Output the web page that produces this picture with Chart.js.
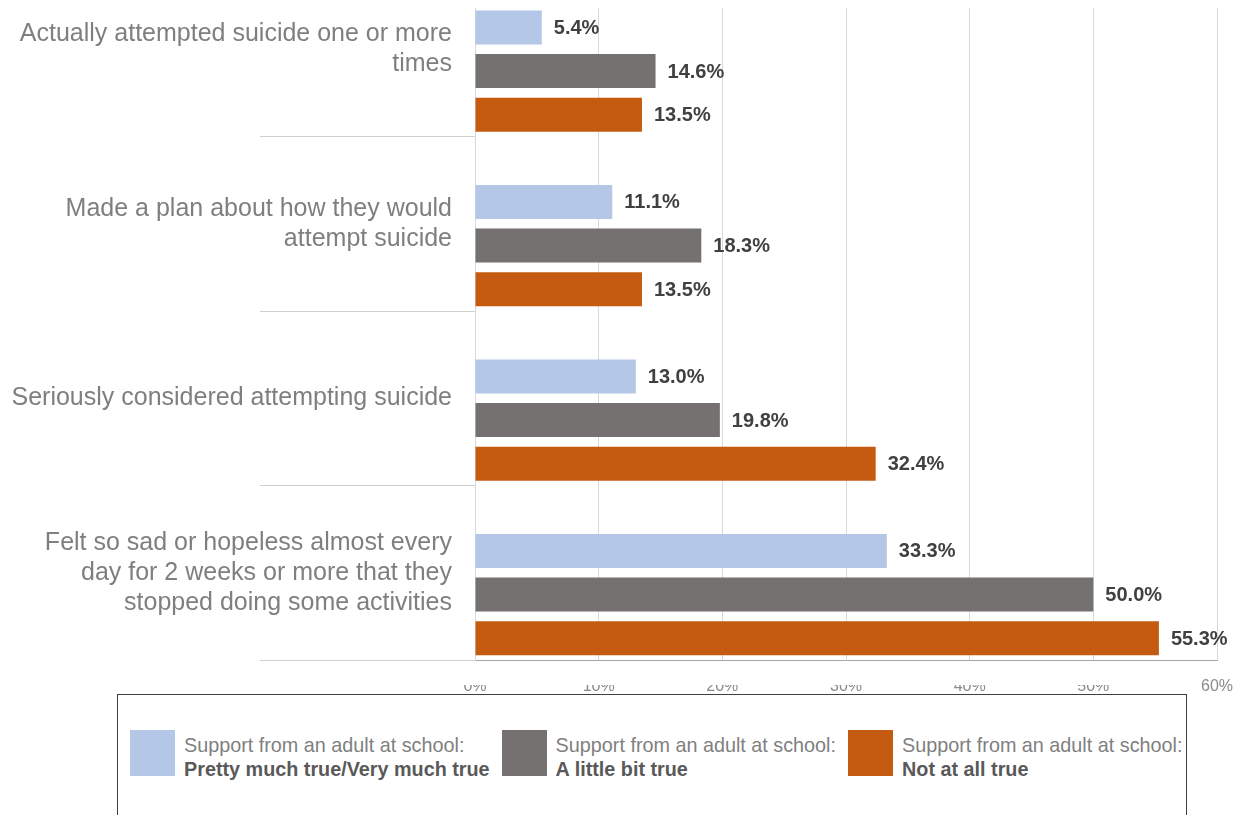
<!DOCTYPE html>
<html>
<head>
<meta charset="utf-8">
<script src="https://cdn.jsdelivr.net/npm/chart.js@4.4.1/dist/chart.umd.min.js"></script>
<style>
    body { margin: 0; background: #fff; width: 1237px; height: 815px; overflow: hidden; position: relative; font-family: "Liberation Sans", Arial, sans-serif; }
    #clip { position: absolute; left: 0; top: 8px; width: 1237px; height: 700px; overflow: hidden; }
    #wrap { position: absolute; left: 0; top: -46px; width: 1237px; height: 738px; }
    #mask { position: absolute; left: 440px; top: 655px; width: 730px; height: 22px; background: #fff; }
    #legend { position: absolute; left: 117px; top: 694px; width: 1070px; height: 140px; border: 1px solid #404040; background: #fff; box-sizing: border-box; }
    #legend .items { display: flex; gap: 12px; margin: 35px 0 0 12px; align-items: flex-start; }
    #legend .item { display: flex; align-items: flex-start; }
    #legend .sw { width: 45px; height: 46px; flex: none; }
    #legend .txt { margin-left: 9px; font-size: 19.8px; line-height: 24px; color: #7f7f7f; white-space: nowrap; margin-top: 3px; }
    #legend .txt b { color: #595959; }
</style>
</head>
<body>
<div id="clip">
    <div id="wrap"><canvas id="chart"></canvas></div>
    <div id="mask"></div>
</div>
<div id="legend"><div class="items" id="legendItems"></div></div>

<script>
// categories (top to bottom), multi-line labels
var categories = [
    ['Actually attempted suicide one or more', 'times'],
    ['Made a plan about how they would', 'attempt suicide'],
    ['Seriously considered attempting suicide'],
    ['Felt so sad or hopeless almost every', 'day for 2 weeks or more that they', 'stopped doing some activities']
];

// series values (%)
var prettyMuchTrue = [5.4, 11.1, 13.0, 33.3];
var littleBitTrue = [14.6, 18.3, 19.8, 50.0];
var notAtAllTrue = [13.5, 13.5, 32.4, 55.3];

var seriesPrefix = 'Support from an adult at school:';
var seriesNames = ['Pretty much true/Very much true', 'A little bit true', 'Not at all true'];
var seriesColors = ['#b4c7e7', '#767171', '#c55a11'];

var xTicks = [0, 10, 20, 30, 40, 50, 60];

// empty slot at the top of each group (the bars sit low in their band in the original)
var spacer = [null, null, null, null];

var dataLabels = {
    id: 'dataLabels',
    afterDatasetsDraw: function(chart) {
        var ctx = chart.ctx;
        ctx.save();
        ctx.font = 'bold 20px "Liberation Sans", Arial, sans-serif';
        ctx.fillStyle = '#404040';
        ctx.textAlign = 'left';
        ctx.textBaseline = 'middle';
        chart.data.datasets.forEach(function(ds, di) {
            if (ds.spacer) return;
            chart.getDatasetMeta(di).data.forEach(function(bar, i) {
                var v = ds.data[i];
                if (v == null) return;
                ctx.fillText(v.toFixed(1) + '%', bar.x + 12, bar.y + 1);
            });
        });
        ctx.restore();
    }
};

var datasets = [{ label: '', data: spacer, spacer: true, backgroundColor: 'rgba(0,0,0,0)' }];
[prettyMuchTrue, littleBitTrue, notAtAllTrue].forEach(function(vals, i) {
    datasets.push({
        label: seriesPrefix + ' ' + seriesNames[i],
        data: vals,
        backgroundColor: seriesColors[i],
        borderWidth: 0
    });
});

new Chart(document.getElementById('chart'), {
    type: 'bar',
    data: { labels: categories, datasets: datasets },
    options: {
        indexAxis: 'y',
        responsive: true,
        maintainAspectRatio: false,
        animation: false,
        devicePixelRatio: 1,
        categoryPercentage: 1.0,
        barPercentage: 0.78,
        layout: { padding: { left: 0, right: 20, top: 0, bottom: 0 } },
        plugins: {
            legend: { display: false },
            tooltip: { enabled: false }
        },
        scales: {
            x: {
                min: 0,
                max: 60,
                afterBuildTicks: function(scale) {
                    scale.ticks = xTicks.map(function(v) { return { value: v }; });
                },
                afterFit: function(scale) {
                    scale.height = 40;
                    scale.paddingRight = 0;
                },
                grid: { color: '#d9d9d9', drawTicks: false },
                border: { display: true, color: '#a6a6a6' },
                ticks: {
                    padding: 17,
                    color: '#8a8a8a',
                    font: { family: '"Liberation Sans", Arial, sans-serif', size: 16 },
                    callback: function(v) { return v + '%'; }
                }
            },
            y: {
                afterFit: function(scale) { scale.width = 475; },
                grid: {
                    offset: true,
                    drawOnChartArea: false,
                    drawTicks: true,
                    tickLength: 215,
                    color: '#d0d0d0'
                },
                border: { display: true, color: '#d9d9d9' },
                ticks: {
                    autoSkip: false,
                    padding: -192,
                    color: '#7f7f7f',
                    font: { family: '"Liberation Sans", Arial, sans-serif', size: 25, lineHeight: 1.2 }
                }
            }
        }
    },
    plugins: [dataLabels]
});

// legend built from the same arrays
var legendHtml = '';
seriesNames.forEach(function(name, i) {
    legendHtml += '<div class="item"><div class="sw" style="background:' + seriesColors[i] + '"></div>' +
        '<div class="txt">' + seriesPrefix + '<br><b>' + name + '</b></div></div>';
});
document.getElementById('legendItems').innerHTML = legendHtml;
</script>
</body>
</html>
